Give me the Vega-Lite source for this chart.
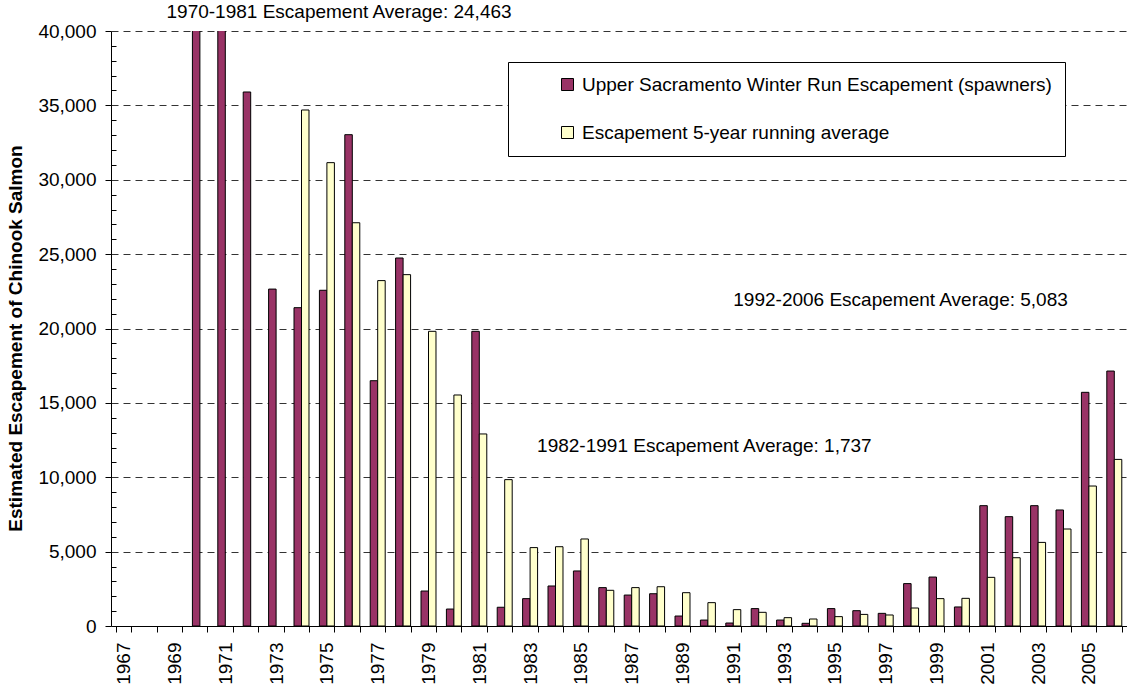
{
  "$schema": "https://vega.github.io/schema/vega-lite/v6.json",
  "width": 1016,
  "height": 595,
  "autosize": {"type": "none"},
  "padding": {"left": 111, "top": 31, "right": 0, "bottom": 59},
  "background": "white",
  "config": {"font": "Liberation Sans", "view": {"stroke": null}},
  "datasets": {
    "bars": [
      {"year": 1970, "series": "Upper Sacramento Winter Run Escapement (spawners)", "value": 40400},
      {"year": 1971, "series": "Upper Sacramento Winter Run Escapement (spawners)", "value": 53000},
      {"year": 1972, "series": "Upper Sacramento Winter Run Escapement (spawners)", "value": 35900},
      {"year": 1973, "series": "Upper Sacramento Winter Run Escapement (spawners)", "value": 22650},
      {"year": 1974, "series": "Upper Sacramento Winter Run Escapement (spawners)", "value": 21400},
      {"year": 1975, "series": "Upper Sacramento Winter Run Escapement (spawners)", "value": 22570},
      {"year": 1976, "series": "Upper Sacramento Winter Run Escapement (spawners)", "value": 33030},
      {"year": 1977, "series": "Upper Sacramento Winter Run Escapement (spawners)", "value": 16490},
      {"year": 1978, "series": "Upper Sacramento Winter Run Escapement (spawners)", "value": 24740},
      {"year": 1979, "series": "Upper Sacramento Winter Run Escapement (spawners)", "value": 2350},
      {"year": 1980, "series": "Upper Sacramento Winter Run Escapement (spawners)", "value": 1140},
      {"year": 1981, "series": "Upper Sacramento Winter Run Escapement (spawners)", "value": 19810},
      {"year": 1982, "series": "Upper Sacramento Winter Run Escapement (spawners)", "value": 1260},
      {"year": 1983, "series": "Upper Sacramento Winter Run Escapement (spawners)", "value": 1840},
      {"year": 1984, "series": "Upper Sacramento Winter Run Escapement (spawners)", "value": 2690},
      {"year": 1985, "series": "Upper Sacramento Winter Run Escapement (spawners)", "value": 3700},
      {"year": 1986, "series": "Upper Sacramento Winter Run Escapement (spawners)", "value": 2580},
      {"year": 1987, "series": "Upper Sacramento Winter Run Escapement (spawners)", "value": 2080},
      {"year": 1988, "series": "Upper Sacramento Winter Run Escapement (spawners)", "value": 2170},
      {"year": 1989, "series": "Upper Sacramento Winter Run Escapement (spawners)", "value": 670},
      {"year": 1990, "series": "Upper Sacramento Winter Run Escapement (spawners)", "value": 400},
      {"year": 1991, "series": "Upper Sacramento Winter Run Escapement (spawners)", "value": 200},
      {"year": 1992, "series": "Upper Sacramento Winter Run Escapement (spawners)", "value": 1170},
      {"year": 1993, "series": "Upper Sacramento Winter Run Escapement (spawners)", "value": 400},
      {"year": 1994, "series": "Upper Sacramento Winter Run Escapement (spawners)", "value": 180},
      {"year": 1995, "series": "Upper Sacramento Winter Run Escapement (spawners)", "value": 1170},
      {"year": 1996, "series": "Upper Sacramento Winter Run Escapement (spawners)", "value": 1030},
      {"year": 1997, "series": "Upper Sacramento Winter Run Escapement (spawners)", "value": 850},
      {"year": 1998, "series": "Upper Sacramento Winter Run Escapement (spawners)", "value": 2850},
      {"year": 1999, "series": "Upper Sacramento Winter Run Escapement (spawners)", "value": 3290},
      {"year": 2000, "series": "Upper Sacramento Winter Run Escapement (spawners)", "value": 1280},
      {"year": 2001, "series": "Upper Sacramento Winter Run Escapement (spawners)", "value": 8090},
      {"year": 2002, "series": "Upper Sacramento Winter Run Escapement (spawners)", "value": 7350},
      {"year": 2003, "series": "Upper Sacramento Winter Run Escapement (spawners)", "value": 8090},
      {"year": 2004, "series": "Upper Sacramento Winter Run Escapement (spawners)", "value": 7800},
      {"year": 2005, "series": "Upper Sacramento Winter Run Escapement (spawners)", "value": 15710},
      {"year": 2006, "series": "Upper Sacramento Winter Run Escapement (spawners)", "value": 17140},
      {"year": 1974, "series": "Escapement 5-year running average", "value": 34690},
      {"year": 1975, "series": "Escapement 5-year running average", "value": 31150},
      {"year": 1976, "series": "Escapement 5-year running average", "value": 27110},
      {"year": 1977, "series": "Escapement 5-year running average", "value": 23220},
      {"year": 1978, "series": "Escapement 5-year running average", "value": 23620},
      {"year": 1979, "series": "Escapement 5-year running average", "value": 19810},
      {"year": 1980, "series": "Escapement 5-year running average", "value": 15530},
      {"year": 1981, "series": "Escapement 5-year running average", "value": 12910},
      {"year": 1982, "series": "Escapement 5-year running average", "value": 9840},
      {"year": 1983, "series": "Escapement 5-year running average", "value": 5270},
      {"year": 1984, "series": "Escapement 5-year running average", "value": 5330},
      {"year": 1985, "series": "Escapement 5-year running average", "value": 5850},
      {"year": 1986, "series": "Escapement 5-year running average", "value": 2400},
      {"year": 1987, "series": "Escapement 5-year running average", "value": 2580},
      {"year": 1988, "series": "Escapement 5-year running average", "value": 2640},
      {"year": 1989, "series": "Escapement 5-year running average", "value": 2240},
      {"year": 1990, "series": "Escapement 5-year running average", "value": 1570},
      {"year": 1991, "series": "Escapement 5-year running average", "value": 1100},
      {"year": 1992, "series": "Escapement 5-year running average", "value": 920},
      {"year": 1993, "series": "Escapement 5-year running average", "value": 560},
      {"year": 1994, "series": "Escapement 5-year running average", "value": 470},
      {"year": 1995, "series": "Escapement 5-year running average", "value": 630},
      {"year": 1996, "series": "Escapement 5-year running average", "value": 780},
      {"year": 1997, "series": "Escapement 5-year running average", "value": 740},
      {"year": 1998, "series": "Escapement 5-year running average", "value": 1210},
      {"year": 1999, "series": "Escapement 5-year running average", "value": 1840},
      {"year": 2000, "series": "Escapement 5-year running average", "value": 1860},
      {"year": 2001, "series": "Escapement 5-year running average", "value": 3270},
      {"year": 2002, "series": "Escapement 5-year running average", "value": 4590},
      {"year": 2003, "series": "Escapement 5-year running average", "value": 5620},
      {"year": 2004, "series": "Escapement 5-year running average", "value": 6520},
      {"year": 2005, "series": "Escapement 5-year running average", "value": 9410},
      {"year": 2006, "series": "Escapement 5-year running average", "value": 11200}
    ]
  },
  "encoding": {
    "x": {
      "field": "year",
      "type": "ordinal",
      "scale": {
        "domain": [1967,1968,1969,1970,1971,1972,1973,1974,1975,1976,1977,1978,1979,1980,1981,1982,1983,1984,1985,1986,1987,1988,1989,1990,1991,1992,1993,1994,1995,1996,1997,1998,1999,2000,2001,2002,2003,2004,2005,2006],
        "paddingInner": 0.41,
        "paddingOuter": 0.205
      },
      "axis": {
        "title": null,
        "tickBand": "extent",
        "labelAngle": -90,
        "labelExpr": "datum.value % 2 === 1 ? datum.value : ''",
        "labelFontSize": 19,
        "labelColor": "black",
        "labelPadding": 10,
        "labelOverlap": false,
        "tickSize": 6,
        "tickColor": "black",
        "domainColor": "black",
        "grid": false
      }
    },
    "y": {
      "field": "value",
      "type": "quantitative",
      "scale": {"domain": [0, 40000], "nice": false, "zero": true},
      "axis": {
        "title": "Estimated Escapement of Chinook Salmon",
        "titleFontSize": 19,
        "titleFontWeight": "bold",
        "titleColor": "black",
        "titlePadding": 12,
        "titleY": 307,
        "values": [0,1000,2000,3000,4000,5000,6000,7000,8000,9000,10000,11000,12000,13000,14000,15000,16000,17000,18000,19000,20000,21000,22000,23000,24000,25000,26000,27000,28000,29000,30000,31000,32000,33000,34000,35000,36000,37000,38000,39000,40000],
        "labelExpr": "datum.value % 5000 === 0 ? format(datum.value, ',') : ''",
        "labelFontSize": 19,
        "labelColor": "black",
        "labelPadding": 9,
        "labelOverlap": false,
        "tickSize": {"condition": {"test": "datum.value % 5000 === 0", "value": 6}, "value": -5},
        "tickColor": "black",
        "domainColor": "black",
        "grid": true,
        "gridDash": [7, 5],
        "gridColor": "#333333",
        "gridOpacity": {"condition": {"test": "datum.value % 5000 === 0 && datum.value > 0", "value": 1}, "value": 0}
      }
    }
  },
  "layer": [
    {
      "data": {"name": "bars"},
      "mark": {"type": "bar", "stroke": "black", "strokeWidth": 1, "clip": true},
      "encoding": {
        "xOffset": {
          "field": "series",
          "type": "nominal",
          "scale": {"domain": ["Upper Sacramento Winter Run Escapement (spawners)", "Escapement 5-year running average"], "paddingInner": 0, "paddingOuter": 0}
        },
        "color": {
          "field": "series",
          "type": "nominal",
          "scale": {"domain": ["Upper Sacramento Winter Run Escapement (spawners)", "Escapement 5-year running average"], "range": ["#993366", "#FFFFCC"]},
          "legend": {
            "title": null,
            "orient": "none",
            "legendX": 397,
            "legendY": 31,
            "direction": "vertical",
            "fillColor": "white",
            "strokeColor": "black",
            "padding": 13,
            "symbolType": "square",
            "symbolSize": 144,
            "symbolStrokeColor": "black",
            "symbolStrokeWidth": 1,
            "symbolOpacity": 1,
            "symbolOffset": 37,
            "labelOffset": 5,
            "labelFontSize": 19,
            "labelColor": "black",
            "labelLimit": 0,
            "rowPadding": 28
          }
        }
      }
    },
    {
      "data": {"values": [{"label": "1970-1981 Escapement Average: 24,463", "year": 1969, "value": 41280}]},
      "mark": {"type": "text", "align": "left", "baseline": "middle", "fontSize": 19, "color": "black", "dx": -8, "clip": false},
      "encoding": {"text": {"field": "label"}}
    },
    {
      "data": {"values": [{"label": "1992-2006 Escapement Average: 5,083", "year": 1991, "value": 21920}]},
      "mark": {"type": "text", "align": "left", "baseline": "middle", "fontSize": 19, "color": "black", "dx": 0, "clip": false},
      "encoding": {"text": {"field": "label"}}
    },
    {
      "data": {"values": [{"label": "1982-1991 Escapement Average: 1,737", "year": 1983, "value": 12120}]},
      "mark": {"type": "text", "align": "left", "baseline": "middle", "fontSize": 19, "color": "black", "dx": 7, "clip": false},
      "encoding": {"text": {"field": "label"}}
    }
  ]
}
